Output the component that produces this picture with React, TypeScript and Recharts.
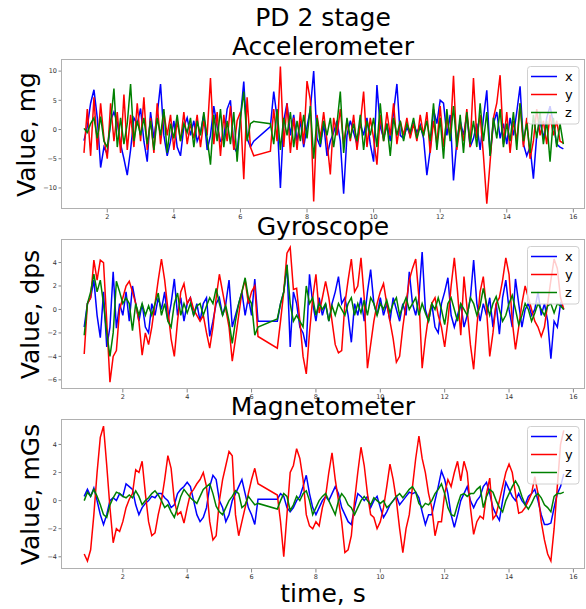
import React from 'react';
import { LineChart, Line, XAxis, YAxis } from 'recharts';

// accelerometer samples, s / mg
const accTime = [
  1.3, 1.4, 1.5, 1.6, 1.7, 1.8, 1.9, 2.0, 2.1, 2.2,
  2.3, 2.4, 2.5, 2.6, 2.7, 2.8, 2.9, 3.0, 3.1, 3.2,
  3.3, 3.4, 3.5, 3.6, 3.7, 3.8, 3.9, 4.0, 4.1, 4.2,
  4.3, 4.4, 4.5, 4.6, 4.7, 4.8, 4.9, 5.0, 5.1, 5.2,
  5.3, 5.4, 5.5, 5.6, 5.7, 5.8, 5.9, 6.0, 6.1, 6.2,
  6.3, 6.4, 6.9, 7.0, 7.1, 7.2, 7.3, 7.4, 7.5, 7.6,
  7.7, 7.8, 7.9, 8.0, 8.1, 8.2, 8.3, 8.4, 8.5, 8.6,
  8.7, 8.8, 8.9, 9.0, 9.1, 9.2, 9.3, 9.4, 9.5, 9.6,
  9.7, 9.8, 9.9, 10.0, 10.1, 10.2, 10.3, 10.4, 10.5, 10.6,
  10.7, 10.8, 10.9, 11.0, 11.1, 11.2, 11.3, 11.4, 11.5, 11.6,
  11.7, 11.8, 11.9, 12.0, 12.1, 12.2, 12.3, 12.4, 12.5, 12.6,
  12.7, 12.8, 12.9, 13.0, 13.1, 13.2, 13.3, 13.4, 13.5, 13.6,
  13.7, 13.8, 13.9, 14.0, 14.1, 14.2, 14.3, 14.4, 14.5, 14.6,
  14.7, 14.8, 14.9, 15.0, 15.1, 15.2, 15.3, 15.4, 15.5, 15.6,
  15.7,
];
const accX = [
  -1.9, 0.5, 4.5, 6.8, 2.0, -6.5, -3.0, -4.2, 1.5, 3.0,
  1.2, -2.5, -5.0, -7.8, -3.5, 2.0, 1.0, 3.6, -2.0, -5.5,
  3.0, -1.5, 2.5, 7.8, -1.0, -4.5, -2.0, 1.5, -3.0, -4.5,
  0.5, 2.0, -1.0, 1.5, -2.0, -0.5, 2.5, -3.5, -1.0, 4.0,
  0.5, -2.0, -1.5, 3.5, 5.0, -3.0, -4.0, 2.0, 8.2, -1.5,
  -3.0, -2.0, 0.5, 6.5, 2.0, -10.0, 1.5, 4.5, -1.0, 2.5,
  -2.0, 1.5, -3.0, 0.5, 3.5, 10.0, -1.5, -3.0, 1.0, -4.5,
  -2.0, -0.5, 1.5, -2.0, -11.0, -1.0, 1.5, -0.5, -2.5, 1.0,
  -1.0, 2.0, -2.5, -5.5, 7.6, 0.5, -1.5, 1.0, -2.0, 3.0,
  7.8, -1.0, -1.5, 0.5, -1.0, 1.0, -0.5, 0.8, -1.5, -7.8,
  -3.5, 3.5, 1.0, 5.0, 4.5, -1.0, 2.5, -8.7, -2.0, 1.5,
  -1.0, 2.5, -3.0, -1.5, 1.0, -3.5, 2.0, 6.7, -4.5, 1.0,
  3.0, -1.5, 1.0, -2.5, 2.0, -1.0, 3.0, 7.4, -2.5, -4.5,
  -3.0, -8.4, -1.0, 1.5, -1.5, 2.0, 4.0, 1.0, -2.5, -3.0,
  -3.3,
];
const accY = [
  -4.0, 3.5, -4.5, 5.5, -3.5, 4.5, -1.5, -5.0, 4.5, -2.0,
  3.0, -4.0, 6.0, -3.5, 2.5, -3.0, 4.5, -2.0, 5.5, -3.5,
  2.0, -4.0, 4.5, -2.5, 3.0, -1.0, 2.5, -3.5, 1.5, -2.0,
  3.0, -2.5, 1.0, -1.5, 2.5, -3.0, 1.5, -1.0, 8.8, -2.5,
  3.0, -4.5, 2.5, -2.0, 4.0, -3.5, 1.5, 3.0, -8.5, 5.5,
  -3.0, -4.5, -3.7, 3.5, -2.0, 10.8, -3.0, 4.5, -4.0, 2.0,
  -3.5, 3.0, -2.5, 8.3, 5.0, -12.3, 2.5, -1.5, 3.0, -2.0,
  -7.7, 2.0, -1.0, 3.5, -2.5, 1.5, -2.0, 2.5, -3.5, 1.0,
  6.5, -3.0, 2.0, -1.5, -6.0, 2.5, -2.0, 3.0, -1.0, 4.5,
  -2.5, 1.5, -1.0, 2.0, -1.5, 1.0, -2.0, 2.5, -1.0, 3.0,
  -4.0, 1.5, -2.5, 4.0, -3.0, 2.0, -1.5, 9.2, -3.5, 1.0,
  -2.0, 3.5, -3.0, 8.8, -1.5, 2.5, -4.5, -12.7, -5.5, 2.0,
  4.5, 9.3, -2.5, 3.0, -4.0, 1.5, -2.0, 4.5, -3.0, 2.0,
  -5.0, -2.0, 3.5, -1.0, 1.5, -2.5, 2.5, -1.0, 1.5, -2.0,
  -2.3,
];
const accZ = [
  0.2, -0.5, 1.0, 2.0, -1.5, 2.2, -2.0, -3.0, 1.0, 7.0,
  -3.0, 2.0, -2.5, 1.0, 7.8, -2.0, 1.5, -1.0, 2.0, -2.5,
  1.5, -3.5, 2.0, -1.0, 3.5, -4.0, 1.0, -1.5, 2.5, -2.0,
  1.0, -0.5, 2.0, -3.0, 1.5, -1.0, 3.0, -1.5, -6.0, 2.5,
  -2.0, 3.5, -3.0, 1.5, -2.5, 3.0, -5.5, 2.0, 6.5, -2.0,
  1.0, 1.4, 1.0, -2.5, 3.5, -3.5, 2.0, -1.0, 3.0, -3.0,
  1.5, -2.0, 2.5, -1.5, 4.0, -5.0, 2.0, -2.5, 1.5, -1.0,
  2.0, -3.0, 1.0, 6.5, -4.0, 2.0, -1.5, 1.0, -2.0, 2.5,
  -3.5, 1.5, -1.0, 2.0, -3.0, 4.5, -2.0, 1.0, -4.5, 2.0,
  -1.0, 1.5, -2.0, 1.0, -0.5, 2.0, -1.5, 0.5, -1.0, 1.5,
  -2.0, 4.5, -3.5, 2.0, -5.0, 3.5, -2.0, 4.0, -3.0, 2.5,
  -4.0, 3.0, -2.5, 1.5, -3.0, 4.5, -2.0, 3.0, -4.5, 2.0,
  -1.5, 3.5, -3.0, 1.0, -2.0, 3.0, -3.5, 4.5, -2.0, 1.0,
  -4.0, 2.5, -1.5, 3.0, -2.5, 1.5, -5.5, 2.0, -3.0, 1.0,
  -2.5,
];

// gyroscope + magnetometer samples share one clock
const imuTime = [
  0.8, 0.9, 1.0, 1.1, 1.2, 1.3, 1.4, 1.5, 1.6, 1.7,
  1.8, 1.9, 2.0, 2.1, 2.2, 2.3, 2.4, 2.5, 2.6, 2.7,
  2.8, 2.9, 3.0, 3.1, 3.2, 3.3, 3.4, 3.5, 3.6, 3.7,
  3.8, 3.9, 4.0, 4.1, 4.2, 4.3, 4.4, 4.5, 4.6, 4.7,
  4.8, 4.9, 5.0, 5.1, 5.2, 5.3, 5.4, 5.5, 5.6, 5.7,
  5.8, 5.9, 6.0, 6.1, 6.2, 6.8, 6.9, 7.0, 7.1, 7.2,
  7.3, 7.4, 7.5, 7.6, 7.7, 7.8, 7.9, 8.0, 8.1, 8.2,
  8.3, 8.4, 8.5, 8.6, 8.7, 8.8, 8.9, 9.0, 9.1, 9.2,
  9.3, 9.4, 9.5, 9.6, 9.7, 9.8, 9.9, 10.0, 10.1, 10.2,
  10.3, 10.4, 10.5, 10.6, 10.7, 10.8, 10.9, 11.0, 11.1, 11.2,
  11.3, 11.4, 11.5, 11.6, 11.7, 11.8, 11.9, 12.0, 12.1, 12.2,
  12.3, 12.4, 12.5, 12.6, 12.7, 12.8, 12.9, 13.0, 13.1, 13.2,
  13.3, 13.4, 13.5, 13.6, 13.7, 13.8, 13.9, 14.0, 14.1, 14.2,
  14.3, 14.4, 14.5, 14.6, 14.7, 14.8, 14.9, 15.0, 15.1, 15.2,
  15.3, 15.4, 15.5, 15.6, 15.7,
];
const gyroX = [
  -1.5, 0.5, 1.0, 2.5, -0.5, -2.4, 1.5, -3.2, -1.5, 3.2,
  -1.6, 0.5, -0.5, 1.5, -1.0, 2.0, 0.5, -1.0, 0.5, -1.5,
  -2.0, 0.5, -0.5, 1.0, 0.0, 1.5, -1.0, 0.5, 2.6, -0.5,
  1.0, -1.0, 0.5, 1.0, -0.5, 0.5, -1.0, 0.5, 1.0, -2.3,
  -1.0, 0.5, 1.0, -0.5, 0.5, 2.5, -1.5, -0.5, 0.5, 1.5,
  -0.5, 1.0, -0.5, 2.6, -1.0, -1.0, 0.5, 1.5, 3.8, -3.2,
  1.5, 0.5, -1.5, -2.0, -3.2, 3.0, 0.5, -1.0, 1.0, -0.5,
  0.5, -1.0, 0.5, 1.5, 2.8, 0.5, 1.0, -0.5, -2.8, 0.5,
  -0.5, 1.0, -1.0, 1.5, 3.4, 0.5, -0.5, 1.0, -0.5, 0.5,
  -1.0, 1.0, 0.0, -1.0, 0.5, -0.5, 3.2, 0.5, -0.5, 1.0,
  4.9, 0.0, -1.0, 0.5, -1.5, -2.0, 0.5, 1.5, 2.7, -0.5,
  -1.5, -0.5, 0.5, -1.5, -0.5, 1.0, 4.2, 0.5, -1.0, 0.5,
  -0.5, 1.0, -1.5, 0.5, -2.1, 1.0, 2.5, 0.0, -1.5, 2.6,
  0.5, -1.5, 0.0, 0.5, -0.5, 0.0, 1.5, -0.5, 0.5, -1.0,
  -4.2, -1.0, -1.5, 0.5, 0.0,
];
const gyroY = [
  -3.8, 0.5, 1.0, 4.2, 2.5, 4.2, 4.0, -1.0, -6.2, -4.0,
  -3.5, 0.0, 1.0, 2.0, 2.4, 1.5, 0.5, -1.0, -3.9, -2.0,
  -3.0, -1.5, 0.5, 2.5, 4.3, 2.5, 0.0, -2.5, -4.0, -1.0,
  1.5, 2.2, 0.5, 1.0, 0.0, -0.5, -1.0, -0.5, -2.0, -3.3,
  -1.5, 1.0, 3.0, 1.5, 0.0, -1.5, -4.4, -2.5, -0.5, 1.5,
  2.5, 0.5, 1.5, 2.0, -2.3, -3.3, -1.0, 1.5, 4.8, 5.3,
  1.7, 1.8, -1.0, -4.0, -5.5, -2.0, 1.0, 3.0, -0.3, 1.0,
  2.4, 1.0, -1.0, -3.0, -3.7, -3.5, 0.5, 2.5, 4.3, 1.5,
  2.0, 4.4, 1.0, -5.0, -3.0, -1.0, 0.5, 1.5, 2.2, 0.5,
  -1.0, -2.5, -4.5, -4.0, -1.5, 0.5, 2.5, 3.5, 4.3, 1.0,
  -5.0, -2.5, -0.5, 0.5, 1.0, -0.5, -1.5, -3.2, -1.0, 2.0,
  4.4, 1.5, -2.2, 2.8, 0.0, -3.0, -5.1, -1.5, 1.5, 2.8,
  0.0, -4.0, -2.0, 0.5, 1.0, 2.5, 4.4, 3.0, -1.0, -3.4,
  -1.5, 0.5, 2.0, 1.0, 0.0, -1.0, -1.5, -2.3, -1.5, 0.5,
  2.5, 4.3, 3.5, 1.0, 0.0,
];
const gyroZ = [
  -2.2, 0.5, 1.5, 3.0, 1.5, 2.5, 0.5, -2.0, -4.0, -2.0,
  2.4, 1.5, 0.5, 1.0, 0.5, -1.8, 0.5, -0.5, 0.5, -0.5,
  0.3, -0.5, 0.5, 1.4, -0.5, 0.5, -1.0, -1.5, 0.5, 1.4,
  -0.5, 0.5, -0.3, 0.5, -0.5, 0.3, 0.5, -0.5, 0.3, 1.0,
  0.5, 1.8, 0.5, -0.5, 0.3, -1.0, -2.9, -1.0, 0.5, 1.5,
  2.7, 1.0, 0.5, -2.2, -1.5, -0.8, 0.5, 1.5, 3.8, 0.5,
  -1.0, -0.5, -1.0, -1.5, 2.0, 0.5, 1.0, -0.5, 0.5, 0.0,
  0.5, -1.0, 0.3, -0.5, 0.5, 0.0, -0.5, 0.5, 1.0, -0.5,
  0.5, -0.3, 0.8, -0.5, 1.0, 0.5, -0.5, 0.5, 0.0, 0.8,
  -0.3, 0.5, 1.0, -0.5, 0.3, 1.0, 0.0, 0.5, 1.0, -0.5,
  0.5, -0.3, -1.0, 0.5, 0.0, 1.0, 0.0, -1.3, 0.5, 1.0,
  0.0, -1.0, 0.5, 0.0, -0.5, 1.0, 0.5, -0.5, 0.3, 1.8,
  0.5, -0.5, 0.5, 1.1, 0.0, -1.0, -0.5, 0.5, 1.2, 0.0,
  -1.3, -0.5, 0.5, 0.0, -1.0, -0.3, 0.5, 0.0, -0.5, 0.3,
  0.5, -0.3, 0.5, 0.3, 0.0,
];
const magX = [
  0.3, 0.8, 0.3, 0.9, 0.0, -1.0, -1.7, -1.0, 0.0, 0.2,
  0.0, 0.5, 0.3, 1.2, 1.0, 0.8, -0.3, -1.0, -0.5, -0.2,
  0.0, 0.3, 0.2, 0.5, 0.5, 0.2, 0.0, -0.5, -0.3, 0.5,
  0.8, 1.0, 1.3, 1.0, 0.0, -1.0, -1.5, -1.2, -0.5, 1.0,
  1.8, 1.5, 0.0, -0.5, -1.5, -1.0, 0.0, 0.5, 1.0, 1.5,
  0.5, -0.5, -1.0, -1.7, 0.1, 0.1, 0.5, 0.3, -0.5, -0.8,
  -0.5, 0.0, 0.3, 1.0, 1.8, 0.5, -0.5, -1.0, -0.5, 0.0,
  0.3, 0.0, 0.5, 1.0, 0.5, -0.5, -1.0, -1.5, -1.7, -0.5,
  0.5, 0.3, 0.0, 0.3, -0.5, 0.0, 0.3, -0.5, -1.2, -0.8,
  -0.3, 0.0, 0.3, -0.3, 0.0, 0.3, 0.6, 0.5, 0.6, 0.2,
  -0.8, -1.7, -1.0, -1.0, 0.0, 1.0, 2.1, 1.5, 0.5, -1.0,
  -1.9, -1.0, 0.0, 0.5, 1.0, 0.0, -0.5, 0.0, 0.3, 1.0,
  1.3, 0.5, -0.5, -1.0, -1.4, 0.0, 1.3, 0.8, 0.3, 0.0,
  0.5, 0.0, -0.3, 0.3, 0.5, 0.8, 0.0, -1.0, -1.7, -1.7,
  -1.6, -0.5, 0.5, 1.0, 1.9,
];
const magY = [
  -3.8, -4.3, -3.5, -1.0, 2.0, 4.5, 5.3, 2.5, -0.5, -3.0,
  -2.0, -2.2, -1.5, -0.5, 0.1, 0.5, 2.2, 2.0, 2.8, 0.5,
  -1.5, -2.5, -2.3, -1.0, 0.0, 1.5, 3.2, 2.3, 0.0, -1.0,
  -0.8, -1.6, -0.5, 0.5, 0.8, 1.2, 1.5, 2.0, 1.0, -1.5,
  -2.8, -2.5, 0.0, 1.5, 2.5, 3.5, 3.2, -1.0, -2.5, -1.5,
  -0.5, 0.5, 1.5, 2.3, 1.2, 0.4, -1.5, -4.0, -1.0, 2.0,
  2.5, 3.7, 3.0, 1.5, -1.0, -1.8, -2.0, -1.5, -1.8, -0.5,
  0.3, 2.0, 3.4, 1.5, 0.0, -1.5, -3.7, -3.5, -2.5, 0.0,
  2.0, 3.8, 2.5, 0.5, -1.0, -1.2, -2.0, -1.5, -0.5, 1.0,
  2.6, 1.5, 0.0, -2.0, -3.7, -2.0, -1.0, 1.0, 3.0, 4.6,
  3.0, 2.0, 0.5, -0.5, -2.5, -1.5, -1.5, 0.5, 1.5, 1.0,
  2.0, 2.8, 1.4, 2.8, 2.0, -0.5, -2.4, -1.5, -1.1, -1.3,
  0.5, 1.6, -1.3, -1.0, 0.0, 1.0, 2.0, 2.6, 2.0, 0.5,
  -0.9, -0.8, -0.5, 0.0, 0.5, 1.7, 0.5, -1.5, -2.8, -3.8,
  -4.3, -2.0, 1.0, 4.0, 5.0,
];
const magZ = [
  0.0, 0.6, 0.3, 0.8, 0.3, -0.3, -1.0, -1.2, -0.3, 0.2,
  0.6, 0.5, 0.3, 0.2, 0.4, 0.2, 0.7, 0.3, -0.3, 0.0,
  0.2, 0.5, 0.7, 0.4, 0.0, -0.5, -0.3, -0.8, -1.2, -0.5,
  0.3, 0.8, 0.5, 0.2, 0.0, -0.2, 0.3, 0.8, 1.0, 1.2,
  0.5, -0.4, -0.8, -1.0, -0.5, 0.0, 0.3, 0.7, 0.5, -0.5,
  -0.3, 0.3, 0.0, -0.3, -0.2, -0.6, 0.0, 0.5, 0.3, -0.7,
  -0.3, 0.3, 0.0, 0.5, 0.7, 0.0, -1.0, -0.5, 0.0, 0.3,
  0.5, 0.0, -0.5, -1.0, 0.0, 0.5, 0.2, -0.3, -0.5, -1.0,
  -0.5, 0.0, 0.3, 0.0, -0.3, 0.2, 0.0, -0.2, 0.0, -0.5,
  -0.3, 0.0, 0.3, 0.5, 0.2, 0.5, 0.8, 1.0, 0.6, -0.2,
  -0.5, -0.2, -0.3, 0.0, 0.5, 0.8, 1.2, 0.5, -0.5, -1.0,
  -1.1, -0.3, 0.4, 0.5, 0.3, 0.5, 0.5, 0.8, 1.0, -0.5,
  0.3, 0.8, 0.6, 0.0, -0.5, -0.8, 0.0, 0.5, 1.0, 1.4,
  1.0, 0.3, -0.3, -0.6, -0.2, 0.3, 0.5, 0.2, -0.3, -0.5,
  -0.8, 0.3, 0.5, 0.5, 0.6,
];

const xTicks = [2, 4, 6, 8, 10, 12, 14, 16];
const accTicks = [-10, -5, 0, 5, 10];
const gyroTicks = [-6, -4, -2, 0, 2, 4];
const magTicks = [-4, -2, 0, 2, 4];

const series = [
  { key: 'x', color: '#0000ff' },
  { key: 'y', color: '#ff0000' },
  { key: 'z', color: '#008000' },
];

const FONT = 'DejaVu Sans, sans-serif';
const PLOT_H = 149;

function rows(time: number[], x: number[], y: number[], z: number[]) {
  return time.map((t, i) => ({ t, x: x[i], y: y[i], z: z[i] }));
}

const panels = [
  {
    title: 'Accelerometer',
    ylabel: 'Value, mg',
    labelX: 35,
    top: 60,
    data: rows(accTime, accX, accY, accZ),
    xDomain: [0.64, 16.35],
    yDomain: [-13.6, 11.9],
    yTicks: accTicks,
  },
  {
    title: 'Gyroscope',
    ylabel: 'Value, dps',
    labelX: 38.5,
    top: 240,
    data: rows(imuTime, gyroX, gyroY, gyroZ),
    xDomain: [0.11, 16.36],
    yDomain: [-6.78, 5.92],
    yTicks: gyroTicks,
  },
  {
    title: 'Magnetometer',
    ylabel: 'Value, mGs',
    labelX: 38.5,
    top: 420,
    data: rows(imuTime, magX, magY, magZ),
    xDomain: [0.11, 16.36],
    yDomain: [-4.87, 5.74],
    yTicks: magTicks,
  },
];

// matplotlib prints a real minus sign
const fmt = (v: number) => (v < 0 ? '\u2212' + Math.abs(v) : String(v));
const tickStyle = { fontSize: 6.5, fill: '#333', fontFamily: FONT };

function Panel({ p }: { p: (typeof panels)[number] }) {
  return (
    <div style={{ position: 'absolute', left: 0, top: p.top }}>
      <LineChart
        width={586}
        height={PLOT_H + 20}
        data={p.data}
        margin={{ top: 0, right: 1, bottom: 0, left: 0 }}
      >
        <XAxis
          dataKey="t"
          type="number"
          domain={p.xDomain}
          ticks={xTicks}
          allowDataOverflow
          axisLine={false}
          tickLine={{ stroke: '#888' }}
          tickSize={3.5}
          tickMargin={2}
          tick={tickStyle}
          tickFormatter={fmt}
          height={20}
        />
        <YAxis
          type="number"
          domain={p.yDomain}
          ticks={p.yTicks}
          allowDataOverflow
          axisLine={false}
          tickLine={{ stroke: '#888' }}
          tickSize={3.5}
          tickMargin={1.5}
          tick={tickStyle}
          tickFormatter={fmt}
          width={62}
        />
        {series.map((s) => (
          <Line
            key={s.key}
            dataKey={s.key}
            stroke={s.color}
            strokeWidth={1.5}
            dot={false}
            type="linear"
            isAnimationActive={false}
          />
        ))}
      </LineChart>
    </div>
  );
}

export default function App() {
  return (
    <div
      style={{
        position: 'absolute',
        left: 0,
        top: 0,
        width: 586,
        height: 609,
        background: '#fff',
        overflow: 'hidden',
        fontFamily: FONT,
      }}
    >
      {panels.map((p) => (
        <Panel key={p.title} p={p} />
      ))}
      <svg
        width={586}
        height={609}
        style={{ position: 'absolute', left: 0, top: 0, pointerEvents: 'none' }}
        fontFamily={FONT}
      >
        <text x={323} y={26} fontSize={25} textAnchor="middle" fill="#000">
          PD 2 stage
        </text>
        {panels.map((p) => (
          <g key={p.title}>
            <rect
              x={61.5}
              y={p.top - 0.5}
              width={523}
              height={PLOT_H}
              fill="none"
              stroke="#b0b0b0"
              strokeWidth={1}
            />
            <text x={323} y={p.top - 5.5} fontSize={25} textAnchor="middle" fill="#000">
              {p.title}
            </text>
            <text
              transform={`translate(${p.labelX}, ${p.top + PLOT_H / 2}) rotate(-90)`}
              fontSize={25}
              textAnchor="middle"
              fill="#000"
            >
              {p.ylabel}
            </text>
            <rect
              x={527.5}
              y={p.top + 6.5}
              width={51.5}
              height={57.5}
              rx={3}
              fill="#fff"
              fillOpacity={0.8}
              stroke="#d0d0d0"
            />
            {series.map((s, i) => (
              <g key={s.key}>
                <line
                  x1={531}
                  x2={557}
                  y1={p.top + 16.5 + 18 * i}
                  y2={p.top + 16.5 + 18 * i}
                  stroke={s.color}
                  strokeWidth={1.5}
                />
                <text x={565} y={p.top + 21 + 18 * i} fontSize={13} fill="#000">
                  {s.key}
                </text>
              </g>
            ))}
          </g>
        ))}
        <text x={323} y={602} fontSize={25} textAnchor="middle" fill="#000">
          time, s
        </text>
      </svg>
    </div>
  );
}
